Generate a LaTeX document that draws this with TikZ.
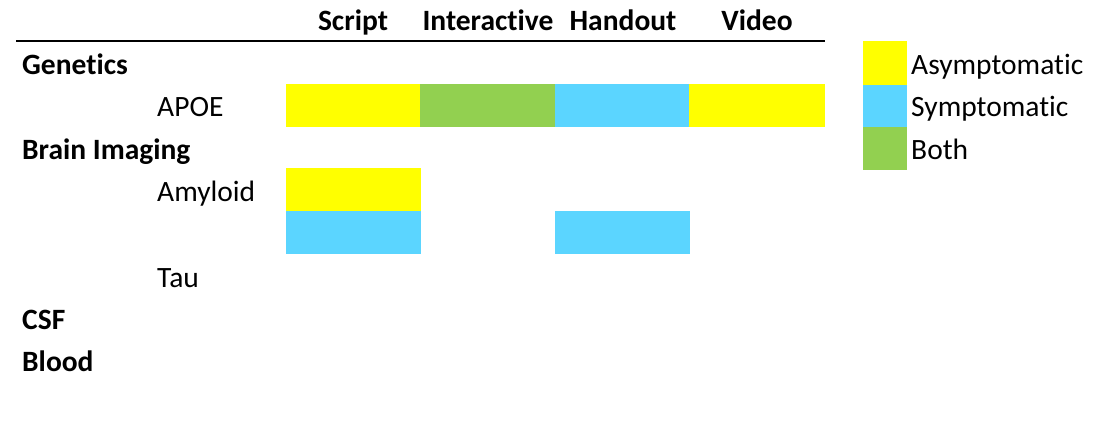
\documentclass[tikz,border=0pt]{standalone}
\usepackage{fontspec}
\setmainfont[Ligatures=NoCommon]{Carlito}
\definecolor{asym}{HTML}{FFFF00}
\definecolor{sym}{HTML}{5BD5FF}
\definecolor{both}{HTML}{92D050}
\tikzset{
  lbl/.style={inner sep=0pt, anchor=base west, font=\fontsize{29.5}{35}\selectfont},
  grp/.style={lbl, font=\fontsize{29.5}{35}\selectfont\bfseries},
  hdr/.style={inner sep=0pt, anchor=base, font=\fontsize{29.5}{35}\selectfont\bfseries},
}
\begin{document}
\begin{tikzpicture}[x=1pt, y=-1pt]
\useasboundingbox (0,0) rectangle (1115,423);

% column headers and rule
\node[hdr] (hScript) at (353,30) {Script};
\node[hdr] (hInter) at (488,30) {Interactive};
\node[hdr] (hHand) at (623,30) {Handout};
\node[hdr] (hVideo) at (757,30) {Video};
\draw[line width=2pt] (16,41) -- (825,41);

% row labels
\node[grp] (gen) at (22,74) {Genetics};
\node[lbl] (apoe) at (157,116.5) {APOE};
\node[grp] (brain) at (22,159) {Brain Imaging};
\node[lbl] (amy) at (157,201) {Amyloid};
\node[lbl] (tau) at (157,287) {Tau};
\node[grp] (csf) at (22,329) {CSF};
\node[grp] (blood) at (22,371) {Blood};

% APOE cells
\fill[asym] (286,84) rectangle (420,127);
\fill[both] (420,84) rectangle (555,127);
\fill[sym]  (555,84) rectangle (689,127);
\fill[asym] (689,84) rectangle (825,127);

% Amyloid cells
\fill[asym] (286,168) rectangle (421,211);
\fill[sym]  (286,211) rectangle (421,254);
\fill[sym]  (555,211) rectangle (690,254);

% legend
\fill[asym] (863,41) rectangle (907,85);
\fill[sym]  (863,85) rectangle (907,127);
\fill[both] (863,127) rectangle (907,170);
\node[lbl] (lAsym) at (911,74) {Asymptomatic};
\node[lbl] (lSym) at (911,116.5) {Symptomatic};
\node[lbl] (lBoth) at (911,159) {Both};
\end{tikzpicture}
\end{document}
